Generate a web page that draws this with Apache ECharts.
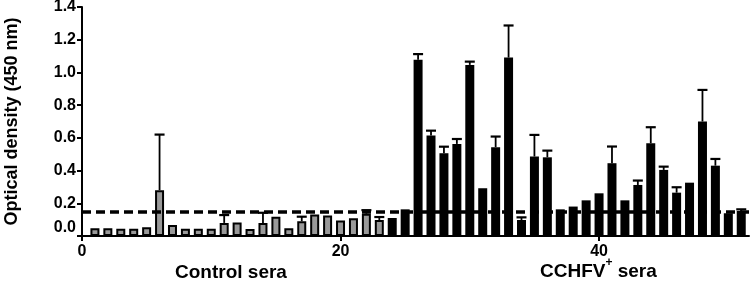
<!DOCTYPE html>
<html>
<head>
<meta charset="utf-8">
<script src="https://cdn.jsdelivr.net/npm/echarts@6/dist/echarts.min.js"></script>
<style>
  html, body { margin: 0; padding: 0; background: #fff; }
  #chart { width: 750px; height: 284px; }
</style>
</head>
<body>
<div id="chart"></div>
<script>
// Control sera (bars 1-23), OD450 mean and SD (0 = no error bar)
const controlOD = [0.047, 0.047, 0.045, 0.045, 0.053, 0.28, 0.067, 0.045, 0.045, 0.045,
  0.08, 0.082, 0.043, 0.08, 0.118, 0.048, 0.09, 0.132, 0.125, 0.094, 0.109, 0.136, 0.098];
const controlSD = [0, 0, 0, 0, 0, 0.34, 0, 0, 0, 0,
  0.048, 0, 0, 0.062, 0, 0, 0.028, 0, 0, 0, 0, 0.022, 0.018];

// CCHFV+ sera (bars 24-51)
const positiveOD = [0.11, 0.163, 1.077, 0.614, 0.506, 0.563, 1.046, 0.292, 0.543, 1.091,
  0.098, 0.486, 0.481, 0.163, 0.18, 0.218, 0.261, 0.445, 0.218, 0.312,
  0.567, 0.404, 0.265, 0.326, 0.70, 0.43, 0.139, 0.153];
const positiveSD = [0, 0, 0.035, 0.03, 0.04, 0.03, 0.02, 0, 0.065, 0.196,
  0.016, 0.132, 0.041, 0, 0, 0, 0, 0.102, 0, 0.027,
  0.098, 0.02, 0.033, 0, 0.193, 0.041, 0, 0.01];

const cutoff = 0.155;
const xTicks = [0, 20, 40];
const groupLabels = ['Control sera', 'CCHFV', '+', ' sera'];
const yTitle = 'Optical density (450 nm)';

const font = "'Liberation Sans', Arial, sans-serif";

const controlData = controlOD.map((v, i) => [i + 1, v]);
const positiveData = positiveOD.map((v, i) => [controlOD.length + i + 1, v]);
const errData = [];
controlOD.forEach((v, i) => { if (controlSD[i]) errData.push([i + 1, v, v + controlSD[i]]); });
positiveOD.forEach((v, i) => { if (positiveSD[i]) errData.push([controlOD.length + i + 1, v, v + positiveSD[i]]); });

const myChart = echarts.init(document.getElementById('chart'));

const option = {
  animation: false,
  grid: { left: 82, right: 1, top: 7, bottom: 48, outerBoundsMode: 'none', containLabel: false },
  xAxis: {
    type: 'value',
    min: 0,
    max: 51.6,
    splitLine: { show: false },
    axisLine: { lineStyle: { color: '#000', width: 2 } },
    axisTick: { length: 5, lineStyle: { color: '#000', width: 2 }, customValues: xTicks },
    axisLabel: {
      customValues: xTicks,
      margin: 8,
      color: '#000',
      fontFamily: font,
      fontWeight: 'bold',
      fontSize: 16,
    },
  },
  yAxis: {
    type: 'value',
    min: 0,
    max: 1.4,
    interval: 0.2,
    name: yTitle,
    nameLocation: 'middle',
    nameGap: 61,
    nameTextStyle: { color: '#000', fontFamily: font, fontWeight: 'bold', fontSize: 18 },
    splitLine: { show: false },
    axisLine: { show: true, lineStyle: { color: '#000', width: 2 } },
    axisTick: { show: true, length: 5, lineStyle: { color: '#000', width: 2 } },
    axisLabel: {
      margin: 6,
      color: '#000',
      fontFamily: font,
      fontWeight: 'bold',
      fontSize: 16,
      formatter: (v) => v === 0 ? '{z|0.0}' : v.toFixed(1),
      rich: {
        z: { fontFamily: font, fontWeight: 'bold', fontSize: 16, color: '#000', padding: [0, 0, 16, 0] },
      },
    },
  },
  series: [
    {
      name: 'Control sera',
      type: 'bar',
      barWidth: 9,
      barGap: '-100%',
      itemStyle: { color: '#999999', borderColor: '#000', borderWidth: 2 },
      data: controlData,
    },
    {
      name: 'CCHFV+ sera',
      type: 'bar',
      barWidth: 9,
      barGap: '-100%',
      itemStyle: { color: '#000' },
      data: positiveData,
    },
    {
      name: 'SD',
      type: 'custom',
      z: 5,
      renderItem: (params, api) => {
        const base = api.coord([api.value(0), api.value(1)]);
        const top = api.coord([api.value(0), api.value(2)]);
        return {
          type: 'group',
          children: [
            { type: 'line', shape: { x1: base[0], y1: base[1], x2: top[0], y2: top[1] },
              style: { stroke: '#000', lineWidth: 1.8 } },
            { type: 'line', shape: { x1: top[0] - 5, y1: top[1], x2: top[0] + 5, y2: top[1] },
              style: { stroke: '#000', lineWidth: 2.2 } },
          ],
        };
      },
      data: errData,
      markLine: {
        silent: true,
        symbol: 'none',
        label: { show: false },
        lineStyle: { color: '#000', width: 3.5, type: [9, 5] },
        data: [{ yAxis: cutoff }],
      },
    },
  ],
  graphic: [
    {
      type: 'text',
      left: 175, top: 263,
      style: { text: groupLabels[0], fill: '#000', font: 'bold 19px ' + font },
    },
    {
      type: 'text',
      left: 540, top: 257,
      style: {
        text: '{a|' + groupLabels[1] + '}{s|' + groupLabels[2] + '}{a|' + groupLabels[3] + '}',
        rich: {
          a: { fontFamily: font, fontWeight: 'bold', fontSize: 19, color: '#000', verticalAlign: 'bottom', lineHeight: 24 },
          s: { fontFamily: font, fontWeight: 'bold', fontSize: 12, color: '#000', verticalAlign: 'top', lineHeight: 24, padding: [0, 0, 10, 0] },
        },
      },
    },
  ],
};

option && myChart.setOption(option);
</script>
</body>
</html>
